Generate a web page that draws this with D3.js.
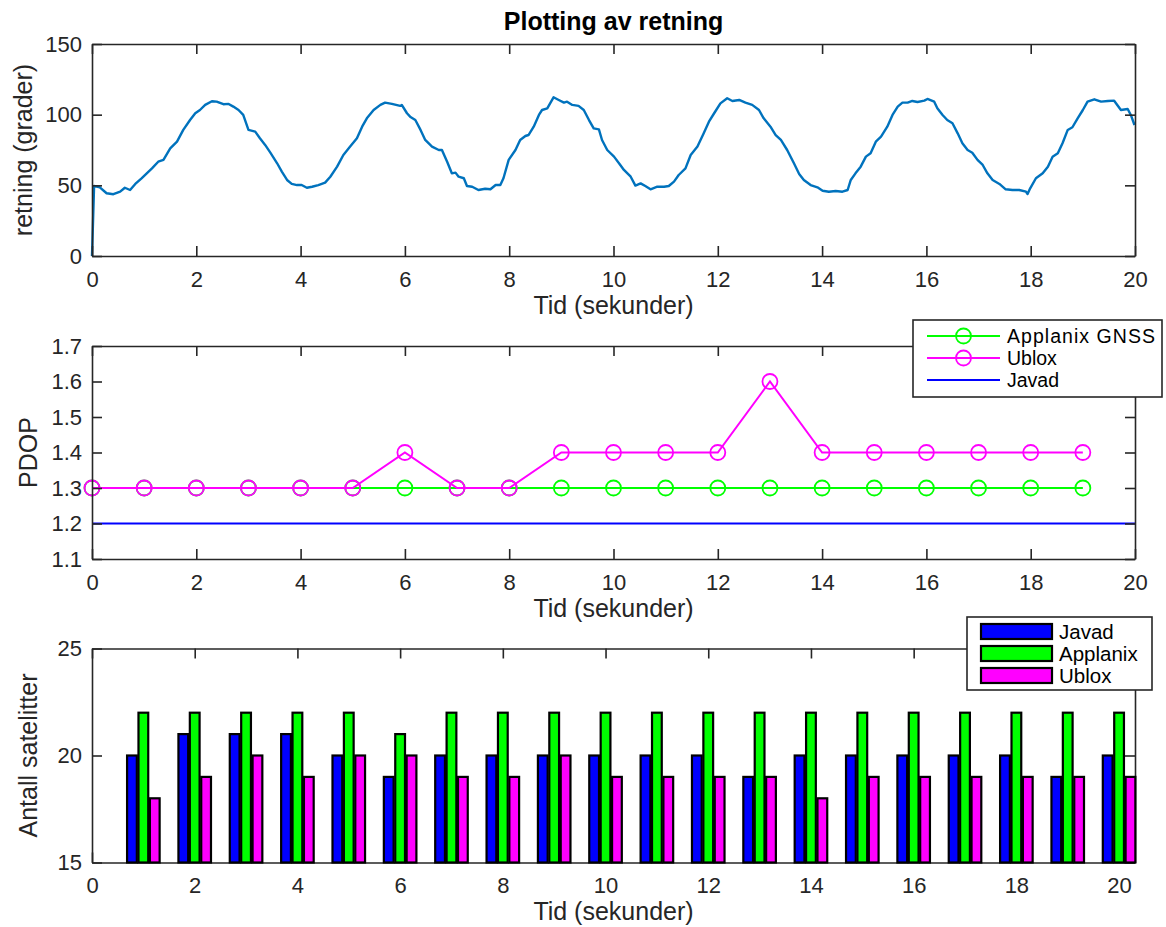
<!DOCTYPE html>
<html>
<head>
<meta charset="utf-8">
<script src="https://cdn.jsdelivr.net/npm/d3@7"></script>
<style>
  html, body { margin: 0; padding: 0; background: #fff; }
  svg text { font-family: "Liberation Sans", Arial, Helvetica, sans-serif; fill: #262626; }
</style>
</head>
<body>
<svg id="fig" width="1166" height="927"></svg>
<script>
// ---- Retning (heading) over time ----
const retningTid = [0.00,0.04,0.15,0.28,0.41,0.54,0.63,0.73,0.83,0.95,1.05,1.15,1.27,1.37,1.50,1.63,1.75,1.88,1.98,2.07,2.17,2.30,2.39,2.52,2.62,2.71,2.81,2.90,3.00,3.13,3.22,3.32,3.42,3.55,3.64,3.74,3.83,3.93,4.02,4.12,4.22,4.34,4.47,4.57,4.70,4.82,4.95,5.08,5.18,5.27,5.40,5.53,5.62,5.75,5.91,5.94,6.04,6.10,6.20,6.30,6.39,6.52,6.65,6.71,6.81,6.90,6.97,7.03,7.13,7.19,7.29,7.41,7.54,7.64,7.74,7.83,7.89,7.99,8.12,8.21,8.31,8.37,8.47,8.57,8.63,8.73,8.85,8.95,9.05,9.11,9.21,9.33,9.43,9.53,9.62,9.72,9.78,9.88,10.01,10.13,10.20,10.33,10.42,10.52,10.61,10.71,10.84,10.97,11.06,11.16,11.25,11.38,11.48,11.61,11.73,11.83,11.93,12.05,12.18,12.28,12.41,12.53,12.66,12.79,12.88,13.01,13.11,13.21,13.33,13.46,13.56,13.65,13.78,13.91,14.01,14.13,14.26,14.39,14.49,14.55,14.64,14.74,14.84,14.93,15.03,15.13,15.25,15.35,15.45,15.54,15.64,15.73,15.83,15.96,16.02,16.15,16.21,16.31,16.40,16.50,16.60,16.69,16.79,16.88,16.98,17.08,17.17,17.27,17.40,17.52,17.65,17.78,17.91,17.94,17.99,18.10,18.23,18.33,18.42,18.52,18.61,18.71,18.80,18.90,19.00,19.09,19.22,19.35,19.48,19.60,19.73,19.86,19.92,19.99];
const retningGrader = [0,49.5,48.6,44.4,43.7,45.5,48.3,46.7,51.0,55.0,58.5,62.0,66.7,68.0,76.2,80.9,89.2,96.2,101.0,103.3,106.9,109.5,109.2,107.4,107.6,105.7,103.3,99.8,89.2,88.0,83.3,78.6,73.1,65.6,59.7,53.8,51.0,50.2,50.2,48.3,49.0,50.2,51.9,56.1,63.2,71.5,77.4,83.3,91.5,97.4,103.3,106.9,108.5,107.6,106.2,106.9,101.0,98.6,96.2,89.2,82.1,77.4,75.0,75.0,66.7,58.5,59.0,56.1,55.0,49.5,49.0,46.7,47.6,47.2,50.2,50.2,55.0,68.0,75.0,82.1,84.9,85.6,91.5,99.8,103.3,104.5,112.3,110.4,108.5,109.2,106.9,106.2,103.3,96.2,90.3,89.6,82.1,75.0,70.3,64.4,60.9,56.1,49.8,51.4,49.5,47.2,49.0,49.0,49.5,52.6,57.3,62.0,71.5,77.4,86.8,95.0,101.0,108.0,111.6,109.7,110.4,108.5,106.9,103.3,97.4,91.5,85.6,82.1,75.0,65.6,58.0,53.8,50.2,48.6,46.2,45.5,46.0,45.5,46.7,53.8,58.5,63.2,70.3,72.7,80.9,84.4,91.5,99.8,105.7,108.5,108.5,109.7,109.0,109.9,111.1,109.2,104.5,99.8,96.2,93.9,86.8,79.8,75.0,73.1,68.0,64.4,58.5,53.8,51.0,47.2,46.7,46.7,45.5,43.9,47.9,55.0,58.5,63.2,70.3,72.7,79.8,89.2,91.1,97.4,103.3,109.2,110.9,109.2,109.7,109.9,103.3,104.0,99.8,92.7];

// ---- PDOP per second ----
const pdopTid = [0,1,2,3,4,5,6,7,8,9,10,11,12,13,14,15,16,17,18,19];
const applanixPdop = [1.3,1.3,1.3,1.3,1.3,1.3,1.3,1.3,1.3,1.3,1.3,1.3,1.3,1.3,1.3,1.3,1.3,1.3,1.3,1.3];
const ubloxPdop = [1.3,1.3,1.3,1.3,1.3,1.3,1.4,1.3,1.3,1.4,1.4,1.4,1.4,1.6,1.4,1.4,1.4,1.4,1.4,1.4];
const javadTid = [0,1,2,3,4,5,6,7,8,9,10,11,12,13,14,15,16,17,18,19,20];
const javadPdop = [1.2,1.2,1.2,1.2,1.2,1.2,1.2,1.2,1.2,1.2,1.2,1.2,1.2,1.2,1.2,1.2,1.2,1.2,1.2,1.2,1.2];

// ---- Number of satellites per second ----
const satTid = [1,2,3,4,5,6,7,8,9,10,11,12,13,14,15,16,17,18,19,20];
const javadSat = [20,21,21,21,20,19,20,20,20,20,20,20,19,20,20,20,20,20,19,20];
const applanixSat = [22,22,22,22,22,21,22,22,22,22,22,22,22,22,22,22,22,22,22,22];
const ubloxSat = [18,19,20,19,20,20,19,19,20,19,19,19,19,18,19,19,19,19,19,19];

// ---- Tick labels ----
const xTicks = [0,2,4,6,8,10,12,14,16,18,20];
const retningTicks = [0,50,100,150];
const pdopTicks = [1.1,1.2,1.3,1.4,1.5,1.6,1.7];
const satTicks = [15,20,25];

const AX = "#262626";
const TICK_FS = 22, LABEL_FS = 25, LEGEND_FS = 19.5;
const svg = d3.select("#fig");

const L = 92, R = 1135;
const panels = {
  top: {t: 44, b: 256},
  mid: {t: 346, b: 559},
  bot: {t: 648.5, b: 862.5}
};

function frame(g, x, y, p, xt, yt, yfmt) {
  g.append("g").attr("transform", `translate(0,${p.b})`)
    .call(d3.axisBottom(x).tickValues(xt).tickSizeInner(-10).tickSizeOuter(0).tickPadding(15).tickFormat(d3.format("d")));
  g.append("g").attr("transform", `translate(0,${p.t})`)
    .call(d3.axisTop(x).tickValues(xt).tickSizeInner(-10).tickSizeOuter(0).tickFormat(""));
  g.append("g").attr("transform", `translate(${L},0)`)
    .call(d3.axisLeft(y).tickValues(yt).tickSizeInner(-10).tickSizeOuter(0).tickPadding(10).tickFormat(yfmt));
  g.append("g").attr("transform", `translate(${R},0)`)
    .call(d3.axisRight(y).tickValues(yt).tickSizeInner(-10).tickSizeOuter(0).tickFormat(""));
  g.selectAll(".domain, .tick line").attr("stroke", AX).attr("stroke-width", 1.6);
  g.selectAll(".tick text").attr("font-size", TICK_FS).attr("fill", AX)
    .style("font-family", '"Liberation Sans", Arial, sans-serif');
}

function xLabel(p, txt) {
  svg.append("text").attr("x", (L + R) / 2).attr("y", p.b + 49).attr("dy", "0.35em")
    .attr("text-anchor", "middle").attr("font-size", LABEL_FS).text(txt);
}
function yLabel(p, cx, txt) {
  const cy = (p.t + p.b) / 2;
  svg.append("text").attr("transform", `translate(${cx},${cy}) rotate(-90)`).attr("dy", "0.35em")
    .attr("text-anchor", "middle").attr("font-size", LABEL_FS).text(txt);
}

// ================= Panel 1: retning =================
{
  const p = panels.top;
  const x = d3.scaleLinear().domain([0, 20]).range([L, R]);
  const y = d3.scaleLinear().domain([0, 150]).range([p.b, p.t]);
  const g = svg.append("g");
  const line = d3.line().x((d, i) => x(retningTid[i])).y(d => y(d));
  g.append("path").datum(retningGrader).attr("d", line)
    .attr("fill", "none").attr("stroke", "#0072BD").attr("stroke-width", 2.4)
    .attr("stroke-linejoin", "round");
  frame(g, x, y, p, xTicks, retningTicks, d3.format("d"));
  xLabel(p, "Tid (sekunder)");
  yLabel(p, 23, "retning (grader)");
  svg.append("text").attr("x", (L + R) / 2).attr("y", 21).attr("dy", "0.35em")
    .attr("text-anchor", "middle").attr("font-size", 25).attr("font-weight", "bold")
    .style("fill", "#000").text("Plotting av retning");
}

// ================= Panel 2: PDOP =================
{
  const p = panels.mid;
  const x = d3.scaleLinear().domain([0, 20]).range([L, R]);
  const y = d3.scaleLinear().domain([1.1, 1.7]).range([p.b, p.t]);
  const g = svg.append("g");
  const series = [
    {name: "Applanix GNSS", t: pdopTid, v: applanixPdop, color: "#00FF00", marker: true},
    {name: "Ublox", t: pdopTid, v: ubloxPdop, color: "#FF00FF", marker: true},
    {name: "Javad", t: javadTid, v: javadPdop, color: "#0000FF", marker: false}
  ];
  series.forEach(s => {
    const line = d3.line().x((d, i) => x(s.t[i])).y(d => y(d));
    g.append("path").datum(s.v).attr("d", line).attr("fill", "none")
      .attr("stroke", s.color).attr("stroke-width", 2);
    if (s.marker) {
      g.selectAll(null).data(s.v).join("circle")
        .attr("cx", (d, i) => x(s.t[i])).attr("cy", d => y(d)).attr("r", 7.5)
        .attr("fill", "none").attr("stroke", s.color).attr("stroke-width", 1.8);
    }
  });
  frame(g, x, y, p, xTicks, pdopTicks, d3.format(".1f"));
  xLabel(p, "Tid (sekunder)");
  yLabel(p, 28, "PDOP");

  // legend
  const lg = svg.append("g").attr("transform", "translate(913,320)");
  lg.append("rect").attr("width", 249).attr("height", 77).attr("fill", "#fff")
    .attr("stroke", AX).attr("stroke-width", 1.6);
  const rows = [16, 38, 60];
  series.forEach((s, i) => {
    lg.append("line").attr("x1", 14).attr("x2", 87).attr("y1", rows[i]).attr("y2", rows[i])
      .attr("stroke", s.color).attr("stroke-width", 2);
    if (s.marker) lg.append("circle").attr("cx", 50.5).attr("cy", rows[i]).attr("r", 7.5)
      .attr("fill", "none").attr("stroke", s.color).attr("stroke-width", 1.8);
    lg.append("text").attr("x", 94).attr("y", rows[i]).attr("dy", "0.35em")
      .attr("font-size", LEGEND_FS).attr("textLength", i === 0 ? 148 : null)
      .style("fill", "#000").text(s.name);
  });
}

// ================= Panel 3: Antall satellitter =================
{
  const p = panels.bot;
  const x = d3.scaleLinear().domain([0, 20.31]).range([L, R]);
  const y = d3.scaleLinear().domain([15, 25]).range([p.b, p.t]);
  const g = svg.append("g");
  const groups = [
    {name: "Javad", v: javadSat, color: "#0000FF", off: -0.222},
    {name: "Applanix", v: applanixSat, color: "#00FF00", off: 0},
    {name: "Ublox", v: ubloxSat, color: "#FF00FF", off: 0.222}
  ];
  // axes first so the bars sit over the inward tick marks
  frame(g, x, y, p, xTicks, satTicks, d3.format("d"));
  const bw = 0.19;
  groups.forEach(s => {
    g.selectAll(null).data(s.v).join("rect")
      .attr("x", (d, i) => x(satTid[i] + s.off - bw / 2))
      .attr("width", (d, i) => x(satTid[i] + s.off + bw / 2) - x(satTid[i] + s.off - bw / 2))
      .attr("y", d => y(d)).attr("height", d => y(15) - y(d))
      .attr("fill", s.color).attr("stroke", "#000").attr("stroke-width", 2.2);
  });
  xLabel(p, "Tid (sekunder)");
  yLabel(p, 28, "Antall satelitter");

  const lg = svg.append("g").attr("transform", "translate(967,617)");
  lg.append("rect").attr("width", 185).attr("height", 73).attr("fill", "#fff")
    .attr("stroke", AX).attr("stroke-width", 1.6);
  const rows = [14.5, 36.5, 58.5];
  groups.forEach((s, i) => {
    lg.append("rect").attr("x", 14).attr("y", rows[i] - 7.5).attr("width", 71).attr("height", 15)
      .attr("fill", s.color).attr("stroke", "#000").attr("stroke-width", 2.2);
    lg.append("text").attr("x", 92).attr("y", rows[i]).attr("dy", "0.35em")
      .attr("font-size", LEGEND_FS + 1).style("fill", "#000").text(s.name);
  });
}
</script>
</body>
</html>
